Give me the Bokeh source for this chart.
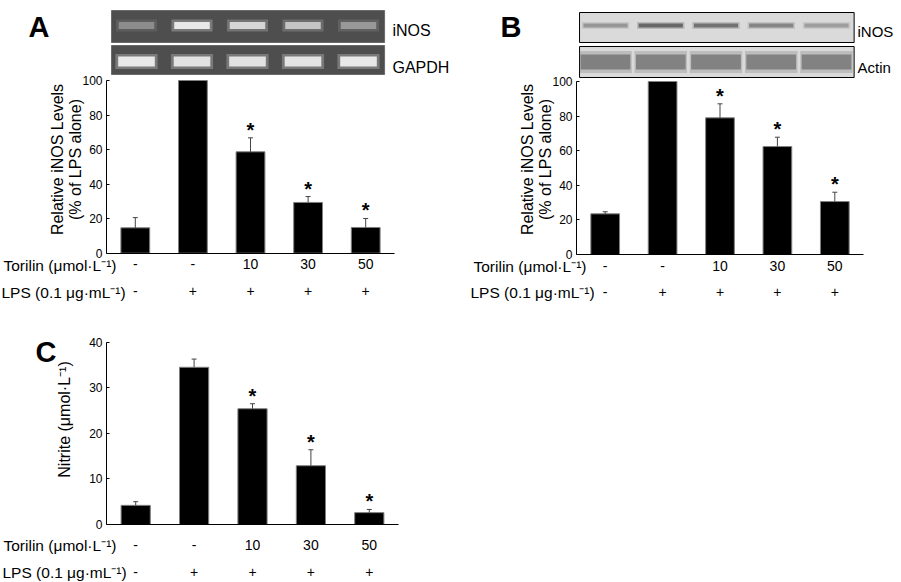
from math import pi
from bokeh.plotting import figure
from bokeh.models import ColumnDataSource, Range1d, FixedTicker, LinearAxis, Label, Whisker, TeeHead
from bokeh.embed import file_html
from bokeh.resources import INLINE
from bokeh.core.properties import value

FONT = "Liberation Sans"

# ---------------- data ----------------
lanes = [1, 2, 3, 4, 5]
torilin_labels = ["-", "-", "10", "30", "50"]
lps_labels = ["-", "+", "+", "+", "+"]
row_names = ["Torilin (\u03bcmol\u00b7L\u207b\u00b9)", "LPS (0.1 \u03bcg\u00b7mL\u207b\u00b9)"]
significant = [False, False, True, True, True]

rt_inos_mean = [14.7, 100.0, 58.7, 29.4, 14.9]
rt_inos_err = [5.9, 0.0, 8.1, 3.4, 5.2]
wb_inos_mean = [23.5, 100.0, 79.0, 62.4, 30.6]
wb_inos_err = [1.2, 0.0, 8.1, 5.4, 5.4]
nitrite_mean = [4.2, 34.5, 25.4, 12.9, 2.6]
nitrite_err = [0.8, 1.8, 1.1, 3.5, 0.7]

pct_ticks = [0, 20, 40, 60, 80, 100]
nitrite_ticks = [0, 10, 20, 30, 40]

# blot band intensities (relative)
gel_inos = [0.35, 1.0, 0.85, 0.72, 0.42]
gel_gapdh = [1.0, 0.95, 0.95, 0.97, 1.0]
wb_inos = [0.45, 0.85, 0.75, 0.6, 0.4]
wb_actin = [0.62, 0.6, 0.6, 0.6, 0.6]

# ---------------- canvas (pixel space, y measured up) ----------------
W, H = 900, 581
p = figure(width=W, height=H, x_range=Range1d(0, W), y_range=Range1d(0, H),
           output_backend="svg", toolbar_location=None, tools="",
           x_axis_location=None, y_axis_location=None, min_border=0)
p.outline_line_color = None
p.grid.visible = False


def Y(y_from_top):
    return H - y_from_top


def txt(text, x, y_top, size="14px", style="normal", align="left", baseline="alphabetic", angle=0):
    p.add_layout(Label(x=x, y=Y(y_top), text=text, text_font=FONT, text_font_size=size,
                       text_font_style=style, text_align=align, text_baseline=baseline,
                       angle=angle, text_color="black"))


def lane_range(name, first_px, px_per_lane):
    start = lanes[0] - first_px / px_per_lane
    p.extra_x_ranges[name] = Range1d(start, start + W / px_per_lane)
    return name


def add_panel(name, fl, fr, y0_top, ymax_top, ymax, y_ticks, mean, err, ylab_lines, ylab_xs,
              ylab_y, std1, std2, row_y, row_x, letter, letter_xy):
    yb, yt = Y(y0_top), Y(ymax_top)
    xppu = (fr - fl) / 5.0
    xs = 0.5 - fl / xppu
    yppu = (yt - yb) / ymax
    ys = -yb / yppu
    xr, yr = "x" + name, "y" + name
    p.extra_x_ranges[xr] = Range1d(xs, xs + W / xppu)
    p.extra_y_ranges[yr] = Range1d(ys, ys + H / yppu)

    yax = LinearAxis(x_range_name=xr, y_range_name=yr, fixed_location=0.5, bounds=(0, ymax),
                     ticker=FixedTicker(ticks=y_ticks), major_tick_in=3, major_tick_out=0,
                     minor_tick_line_color=None, major_label_standoff=4,
                     major_label_text_font=FONT, major_label_text_font_size="12px",
                     major_label_text_color="black",
                     axis_line_color="black", major_tick_line_color="black")
    p.add_layout(yax, "left")
    for labels, std, line_col in ((torilin_labels, std1, "black"), (lps_labels, std2, None)):
        ax = LinearAxis(x_range_name=xr, y_range_name=yr, fixed_location=0, bounds=(0.5, 5.5),
                        ticker=FixedTicker(ticks=lanes),
                        major_label_overrides={k: t for k, t in zip(lanes, labels)},
                        major_tick_in=0, major_tick_out=0, major_tick_line_color=None,
                        minor_tick_line_color=None, major_label_standoff=std,
                        major_label_text_font=FONT, major_label_text_font_size="14px",
                        major_label_text_color="black", axis_line_color=line_col)
        p.add_layout(ax, "below")

    upper = [m + e for m, e in zip(mean, err)]
    src = ColumnDataSource(dict(x=lanes, mean=mean, upper=upper))
    p.vbar(x="x", top="mean", width=0.5, source=src, fill_color="black",
           line_color="#808080", line_width=1, x_range_name=xr, y_range_name=yr)

    keep = [i for i, e in enumerate(err) if e > 0]
    wsrc = ColumnDataSource(dict(x=[lanes[i] for i in keep], lo=[mean[i] for i in keep],
                                 hi=[upper[i] for i in keep]))
    p.add_layout(Whisker(base="x", lower="lo", upper="hi", source=wsrc, dimension="height",
                         x_range_name=xr, y_range_name=yr,
                         line_color="#444444", line_width=1, lower_head=None,
                         upper_head=TeeHead(size=5, line_color="#444444", line_width=1),
                         level="overlay"))

    sig = [i for i, s in enumerate(significant) if s]
    ssrc = ColumnDataSource(dict(x=[lanes[i] for i in sig], y=[upper[i] for i in sig]))
    p.text(x="x", y="y", text=value("*"), source=ssrc, text_font=value(FONT),
           text_font_size="20px", text_font_style="bold", text_align="center",
           text_baseline="alphabetic", y_offset=-8, text_color="black",
           x_range_name=xr, y_range_name=yr)

    for t, xx in zip(ylab_lines, ylab_xs):
        txt(t, xx, ylab_y, size="16px", align="center", angle=pi / 2)
    for t, yy, xx in zip(row_names, row_y, row_x):
        txt(t, xx, yy, size="15.5px", baseline="middle")
    txt(letter, letter_xy[0], letter_xy[1], size="29px", style="bold")
    return xr


# ---------------- panels ----------------
add_panel("A", 106, 394, 252.7, 80, 100, pct_ticks, rt_inos_mean, rt_inos_err,
          ["Relative iNOS Levels", "(% of LPS alone)"], [56.7, 74.6], 159,
          6, 33, [265, 291.7], [3, 1], "A", (28, 26.7))
add_panel("B", 576, 863, 254, 81, 100, pct_ticks, wb_inos_mean, wb_inos_err,
          ["Relative iNOS Levels", "(% of LPS alone)"], [526.7, 545], 159,
          6, 32, [265.8, 291.7], [473, 470], "B", (500, 26.7))
add_panel("C", 106, 398, 524, 341.7, 40, nitrite_ticks, nitrite_mean, nitrite_err,
          ["Nitrite (\u03bcmol\u00b7L\u207b\u00b9)"], [63.6], 419,
          15, 42, [545, 571.7], [3, 2], "C", (35, 351.7))

# ---------------- Panel A blot (RT-PCR gel) ----------------
gA = lane_range("gelA", 136, 55.5)
for top, bot in ((10, 42), (45, 74)):
    p.quad(left=lanes[0] - 0.45, right=lanes[-1] + 0.47, top=Y(top), bottom=Y(bot),
           fill_color="#4e4e4e", line_color="#6a6a6a", line_width=1, x_range_name=gA)
for yc, inten, w, h in ((25, gel_inos, 0.64, 7), (61, gel_gapdh, 0.66, 10)):
    p.rect(x=lanes, y=Y(yc), width=w + 0.1, height=h + 5, fill_color="white",
           fill_alpha=[0.25 * v for v in inten], line_color=None, x_range_name=gA)
    p.rect(x=lanes, y=Y(yc), width=w, height=h, fill_color="#f4f4f4",
           fill_alpha=[0.9 * v for v in inten], line_color=None, x_range_name=gA)
txt("iNOS", 392, 30, size="16px")
txt("GAPDH", 392, 66.7, size="16px")

# ---------------- Panel B blot (Western) ----------------
gB = lane_range("gelB", 605, 55.25)
for top, bot in ((12, 42), (46, 77)):
    p.quad(left=lanes[0] - 0.47, right=lanes[-1] + 0.5, top=Y(top), bottom=Y(bot),
           fill_color="#dadada", line_color="black", line_width=1, x_range_name=gB)
p.rect(x=lanes, y=Y(25), width=0.86, height=7, fill_color="#404040",
       fill_alpha=[0.25 * v for v in wb_inos], line_color=None, x_range_name=gB)
p.rect(x=lanes, y=Y(25), width=0.8, height=4, fill_color="#404040",
       fill_alpha=[0.8 * v for v in wb_inos], line_color=None, x_range_name=gB)
p.rect(x=lanes, y=Y(61.5), width=0.95, height=22, fill_color="#505050",
       fill_alpha=[0.35 * v for v in wb_actin], line_color=None, x_range_name=gB)
p.rect(x=lanes, y=Y(61.5), width=0.9, height=15, fill_color="#505050",
       fill_alpha=[0.9 * v for v in wb_actin], line_color=None, x_range_name=gB)
txt("iNOS", 857, 31, size="15px")
txt("Actin", 857, 66.7, size="15px")

open("out.html", "w").write(file_html(p, INLINE))
